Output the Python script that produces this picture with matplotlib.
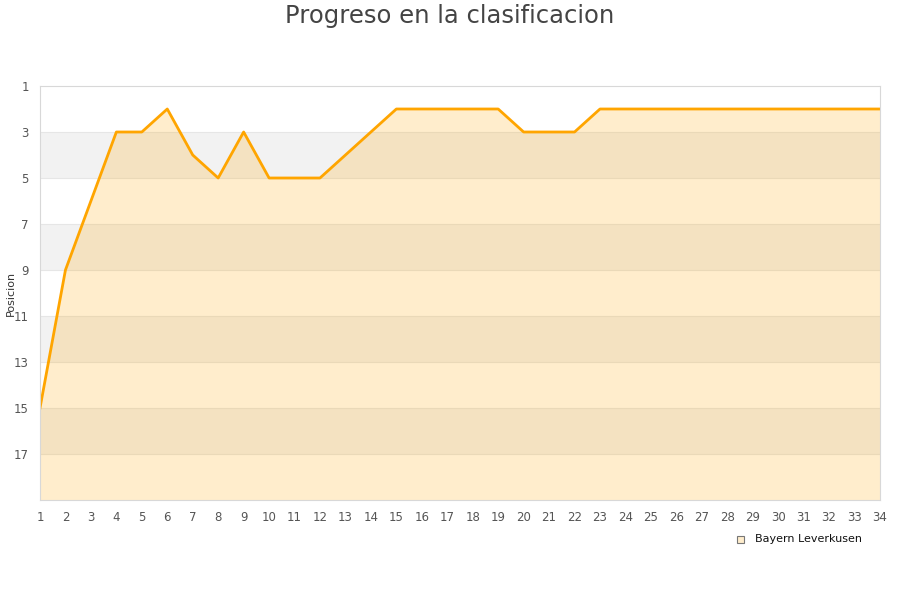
import matplotlib.pyplot as plt
import numpy as np

# Position per matchday
jornadas = list(range(1, 35))
posiciones = [15, 9, 6, 3, 3, 2, 4, 5, 3, 5, 5, 5, 4, 3, 2, 2, 2, 2, 2, 3,
              3, 3, 2, 2, 2, 2, 2, 2, 2, 2, 2, 2, 2, 2]
equipo = 'Bayern Leverkusen'
y_ticks = list(range(1, 18, 2))

fig = plt.figure(figsize=(9, 6), dpi=100)
ax = fig.add_axes([40 / 900, 1 - 500 / 600, 840 / 900, 414 / 600])

# alternating bands
for i, lo in enumerate(range(1, 19, 2)):
    if i % 2 == 1:
        ax.axhspan(lo, lo + 2, color='#f2f2f2', zorder=0, lw=0)
for yv in range(3, 19, 2):
    ax.axhline(yv, color='#e6e6e6', lw=0.8, zorder=0.5)

ax.fill_between(jornadas, posiciones, 19, color='#ffa500', alpha=0.2, lw=0, zorder=1)
ax.plot(jornadas, posiciones, color='#ffa500', lw=2.0, zorder=2)

ax.set_xlim(1, 34)
ax.set_ylim(19, 1)
ax.set_xticks(jornadas)
ax.set_yticks(y_ticks)
ax.tick_params(length=0, labelsize=8.5, colors='#555555')
ax.tick_params(axis='x', pad=8)
ax.tick_params(axis='y', pad=8)
for s in ax.spines.values():
    s.set_color('#d8d8d8')
    s.set_linewidth(0.8)

fig.text(11 / 900, 1 - 293 / 600, 'Posicion', fontsize=8, color='#333333',
         rotation=90, ha='center', va='center')
fig.text(0.5, 1 - 16 / 600, 'Progreso en la clasificacion', ha='center', va='center',
         fontsize=17.5, color='#444444')

# legend
fig.patches.append(plt.Rectangle((737 / 900, 1 - 543 / 600), 7 / 900, 7 / 600,
                                 transform=fig.transFigure, facecolor='#ffedcc',
                                 edgecolor='#777777', lw=0.8))
fig.text(755 / 900, 1 - 539 / 600, equipo, fontsize=8, color='#111111', va='center')

fig.savefig('out.png', dpi=100)
